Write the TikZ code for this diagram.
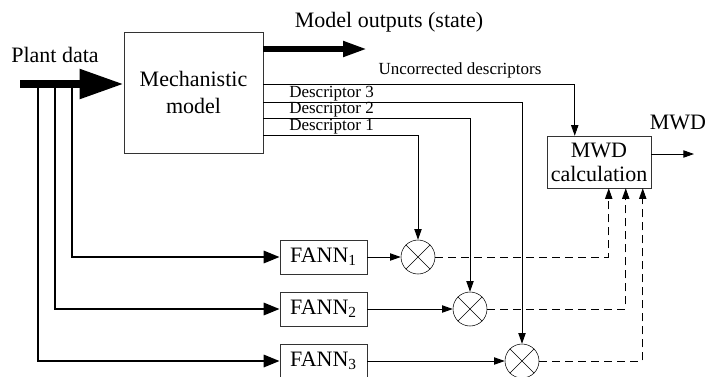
\documentclass[tikz,border=0pt]{standalone}
\usepackage{fontspec}
\setmainfont{Liberation Serif}
\usetikzlibrary{arrows.meta}
\newcommand{\lblbig}{\fontsize{16.5}{19}\selectfont}
\newcommand{\lblsmall}{\fontsize{12.75}{14}\selectfont}
\tikzset{
    txt/.style = {align=center, inner sep=0pt, font=\lblbig},
    block/.style = {txt, rectangle, draw=black!80, thin},
    fann_box/.style = {block, minimum width=65.25pt, minimum height=25.5pt},
    mult/.style = {circle, draw=black, thin, minimum size=25.5pt, inner sep=0pt},
    small_lbl/.style = {txt, font=\lblsmall},
    fat/.style = {line width=6pt, -{Triangle[length=33pt,width=21pt]}},
    fat_out/.style = {line width=4.2pt, -{Triangle[length=18pt,width=11pt]}},
    feed/.style = {line width=2.2pt, -{Triangle[length=12pt,width=9pt]}},
    thin_arrow/.style = {line width=0.7pt, -{Triangle[length=8pt,width=5.5pt]}},
    dash_arrow/.style = {thin_arrow, dash pattern=on 6pt off 3.75pt}
}
\begin{document}
\begin{tikzpicture}[x=0.75pt, y=-0.75pt]
\useasboundingbox (0,0) rectangle (706,376);
% blocks
\node [block, minimum width=104.25pt, minimum height=90.75pt] (mech) at (193.5,92.5) {Mechanistic\\[1pt]model};
\node [fann_box] (fann1) at (323.5,257) {FANN\textsubscript{1}};
\node [fann_box] (fann2) at (323.5,309) {FANN\textsubscript{2}};
\node [fann_box] (fann3) at (323.5,361) {FANN\textsubscript{3}};
\node [mult] (mult1) at (418,257) {};
\node [mult] (mult2) at (470,309) {};
\node [mult] (mult3) at (522,361) {};
\node [block, minimum width=78pt, minimum height=39pt] (mwd) at (599,162) {MWD\\[-1pt]calculation};
% labels
\node [txt] (plant) at (55,55) {Plant data};
\node [txt] (outputs) at (389,22) {Model outputs (state)};
\node [txt] (mwd_lbl) at (678,122) {MWD};
\node [small_lbl] (uncorr) at (460,70) {Uncorrected descriptors};
\node [small_lbl, anchor=base west] (lbl3) at (289,97.5) {Descriptor 3};
\node [small_lbl, anchor=base west] (lbl2) at (289,113.5) {Descriptor 2};
\node [small_lbl, anchor=base west] (lbl1) at (289,130.5) {Descriptor 1};
% free ends
\coordinate (plant_in) at (20,84);
\coordinate (tap1) at (72,84);
\coordinate (tap2) at (55,84);
\coordinate (tap3) at (38,84);
\coordinate (mo_out) at (263,49);
\coordinate (mo_end) at (367,49);
\coordinate (uc_out) at (263,84);
\coordinate (d3_out) at (263,102);
\coordinate (d2_out) at (263,118);
\coordinate (d1_out) at (263,135);
\coordinate (mwd_end) at (694,154);
% plant data
\draw [feed] (tap1) |- (fann1.west);
\draw [feed] (tap2) |- (fann2.west);
\draw [feed] (tap3) |- (fann3.west);
\draw [fat] (plant_in) -- (mech.west |- plant_in);
\draw [fat_out] (mo_out) -- (mo_end);
% descriptors
\draw [thin_arrow] (uc_out) -| ([xshift=21pt]mwd.north west);
\draw [thin_arrow] (d3_out) -| (mult3.north);
\draw [thin_arrow] (d2_out) -| (mult2.north);
\draw [thin_arrow] (d1_out) -| (mult1.north);
\draw [thin_arrow] (fann1) -- (mult1);
\draw [thin_arrow] (fann2) -- (mult2);
\draw [thin_arrow] (fann3) -- (mult3);
\foreach \m in {mult1,mult2,mult3}
    \draw [thin] (\m.north west) -- (\m.south east) (\m.north east) -- (\m.south west);
% corrected descriptors
\draw [dash_arrow] (mult1) -| ([xshift=46.5pt]mwd.south west);
\draw [dash_arrow] (mult2) -| ([xshift=59.25pt]mwd.south west);
\draw [dash_arrow] (mult3) -| ([xshift=72pt]mwd.south west);
\draw [thin_arrow] (mwd.east |- mwd_end) -- (mwd_end);
\end{tikzpicture}
\end{document}
